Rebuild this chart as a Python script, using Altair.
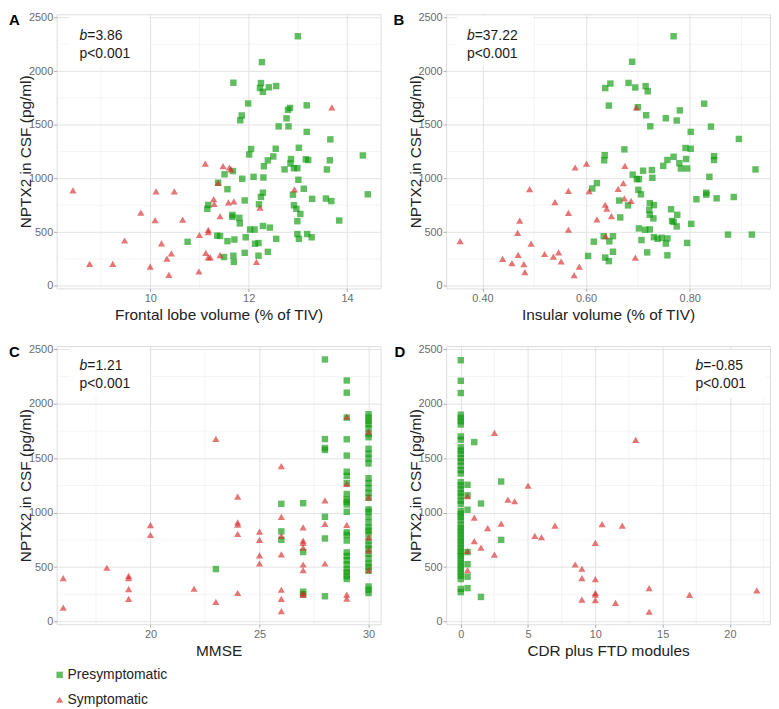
import altair as alt
import pandas as pd

FONT = "Liberation Sans"
GROUPS = ["Presymptomatic", "Symptomatic"]
GREEN = "#0a9a0a"
RED = "#d92b2b"

Y_TITLE = "NPTX2 in CSF (pg/ml)"
Y_MAJOR = [0, 500, 1000, 1500, 2000, 2500]
Y_MINOR = [250, 750, 1250, 1750, 2250]
Y_DOM = [-25, 2530]

# ---------------- Panel A: frontal lobe volume ----------------
A_pre = [(13.0, 2325), (12.27, 2084), (11.69, 1892), (12.25, 1889), (12.23, 1843), (12.41, 1849),
         (12.56, 1861), (12.29, 1807), (11.99, 1699), (13.18, 1681), (12.84, 1657), (12.80, 1639),
         (11.86, 1587), (11.83, 1542), (12.77, 1560), (12.61, 1485), (12.81, 1485), (13.18, 1434),
         (13.66, 1364), (13.02, 1286), (12.05, 1274), (12.55, 1277), (12.01, 1223), (12.50, 1205),
         (12.39, 1169), (12.86, 1181), (13.16, 1178), (13.21, 1172), (13.65, 1169), (14.32, 1214),
         (12.31, 1114), (12.85, 1139), (11.51, 1039), (11.68, 1069), (12.92, 1096), (12.99, 1096),
         (12.73, 1084), (13.59, 1084), (12.10, 1015), (12.30, 1009), (11.87, 997), (13.01, 988),
         (11.38, 960), (11.57, 900), (13.12, 904), (12.29, 867), (14.42, 852), (12.90, 849),
         (12.25, 828), (13.29, 810), (13.57, 813), (13.68, 789), (11.92, 795), (12.21, 759),
         (12.92, 750), (11.18, 753), (11.16, 717), (12.97, 717), (13.05, 669), (11.67, 660),
         (11.67, 642), (11.81, 633), (12.99, 602), (13.84, 608), (11.82, 581), (12.29, 557),
         (12.43, 542), (12.03, 524), (12.12, 524), (12.99, 482), (13.19, 482), (11.36, 467),
         (11.42, 464), (13.28, 452), (13.02, 437), (12.56, 437), (11.94, 452), (11.71, 431),
         (11.57, 416), (10.76, 410), (12.13, 392), (12.20, 398), (12.39, 316), (11.92, 307),
         (12.20, 280), (11.69, 280), (11.50, 268), (11.70, 223)]
A_sym = [(8.43, 889), (8.77, 205), (9.24, 205), (9.48, 422), (9.81, 681), (10.0, 178), (10.12, 880),
         (10.10, 611), (10.23, 395), (10.34, 253), (10.43, 301), (10.38, 102), (10.49, 880),
         (10.66, 617), (10.99, 133), (11.0, 473), (11.12, 1139), (11.13, 307), (11.18, 521),
         (11.18, 265), (11.22, 265), (11.18, 500), (11.29, 807), (11.30, 762), (11.38, 958),
         (11.42, 648), (11.42, 286), (11.48, 1114), (11.61, 1102), (11.64, 1084), (11.59, 777),
         (11.70, 786), (12.16, 223), (12.23, 729), (12.93, 898), (13.69, 1663)]

# ---------------- Panel B: insular volume ----------------
B_pre = [(0.769, 2325), (0.689, 2087), (0.637, 1842), (0.647, 1884), (0.682, 1890), (0.695, 1848),
         (0.715, 1860), (0.719, 1812), (0.644, 1679), (0.700, 1664), (0.828, 1697), (0.781, 1634),
         (0.716, 1589), (0.754, 1561), (0.775, 1540), (0.724, 1486), (0.841, 1483), (0.802, 1434),
         (0.895, 1368), (0.674, 1271), (0.792, 1284), (0.802, 1277), (0.636, 1217), (0.635, 1169),
         (0.769, 1202), (0.757, 1172), (0.749, 1117), (0.780, 1142), (0.783, 1093), (0.795, 1093),
         (0.793, 1181), (0.847, 1208), (0.847, 1172), (0.927, 1084), (0.710, 1072), (0.727, 1078),
         (0.690, 1036), (0.702, 994), (0.698, 994), (0.728, 1006), (0.838, 1015), (0.621, 957),
         (0.612, 906), (0.701, 894), (0.706, 852), (0.832, 867), (0.832, 849), (0.885, 827),
         (0.813, 806), (0.852, 815), (0.664, 794), (0.723, 770), (0.731, 752), (0.681, 749),
         (0.722, 707), (0.764, 713), (0.723, 661), (0.776, 661), (0.730, 628), (0.666, 637),
         (0.766, 604), (0.769, 595), (0.775, 553), (0.803, 577), (0.702, 535), (0.723, 525),
         (0.714, 522), (0.874, 477), (0.920, 477), (0.634, 462), (0.652, 462), (0.731, 453),
         (0.746, 447), (0.738, 438), (0.707, 426), (0.757, 441), (0.754, 393), (0.615, 411),
         (0.645, 414), (0.795, 399), (0.652, 317), (0.718, 311), (0.604, 278), (0.637, 263),
         (0.757, 284), (0.644, 230)]
B_sym = [(0.357, 417), (0.439, 251), (0.457, 211), (0.468, 492), (0.472, 607), (0.469, 287),
         (0.480, 202), (0.482, 127), (0.491, 900), (0.494, 393), (0.520, 296), (0.537, 272),
         (0.540, 779), (0.547, 311), (0.552, 226), (0.566, 885), (0.566, 680), (0.566, 522),
         (0.579, 1102), (0.577, 100), (0.587, 178), (0.601, 1138), (0.606, 882), (0.621, 619),
         (0.637, 755), (0.640, 719), (0.638, 462), (0.649, 649), (0.662, 903), (0.672, 957),
         (0.674, 815), (0.675, 1117), (0.687, 791), (0.695, 263), (0.697, 1661)]

# ---------------- Panel C: MMSE ----------------
C_pre = [(23, 482),
         (26, 1081), (26, 828), (26, 750),
         (27, 1087), (27, 639), (27, 274), (27, 250),
         (28, 2407), (28, 1676), (28, 1594), (28, 1576), (28, 962), (28, 763), (28, 232),
         (29, 2214), (29, 2102), (29, 1873), (29, 1674), (29, 1524), (29, 1376), (29, 1337),
         (29, 1271), (29, 1171), (29, 1121), (29, 1099), (29, 1075), (29, 1008), (29, 819),
         (29, 795), (29, 744), (29, 635), (29, 602), (29, 563), (29, 524), (29, 479), (29, 452),
         (29, 418), (29, 391),
         (30, 1904), (30, 1873), (30, 1843), (30, 1813), (30, 1774), (30, 1723), (30, 1693),
         (30, 1587), (30, 1542), (30, 1497), (30, 1452), (30, 1316), (30, 1271), (30, 1226),
         (30, 1181), (30, 1136), (30, 1030), (30, 1009), (30, 961), (30, 910), (30, 864),
         (30, 834), (30, 804), (30, 744), (30, 699), (30, 669), (30, 623), (30, 578), (30, 533),
         (30, 503), (30, 467), (30, 322), (30, 292), (30, 262)]
C_sym = [(16, 398), (16, 127), (18, 494), (19, 419), (19, 398), (19, 298), (19, 208),
         (20, 886), (20, 795), (22, 301), (23, 1678), (23, 181),
         (24, 1148), (24, 910), (24, 889), (24, 804), (24, 262),
         (25, 825), (25, 750), (25, 608), (25, 533),
         (26, 1428), (26, 961), (26, 786), (26, 617), (26, 292), (26, 208), (26, 96),
         (27, 864), (27, 744), (27, 723), (27, 678), (27, 524), (27, 473), (27, 262), (27, 244),
         (28, 1112), (28, 897), (28, 533),
         (29, 1882), (29, 1265), (29, 888), (29, 247), (29, 210),
         (30, 1744), (30, 1141), (30, 771), (30, 653), (30, 473)]

# ---------------- Panel D: CDR plus FTD modules ----------------
D_pre = [(0, 2400), (0, 2211), (0, 2099), (0, 1900), (0, 1870), (0, 1840), (0, 1810), (0, 1700),
         (0, 1670), (0, 1600), (0, 1570), (0, 1540), (0, 1500), (0, 1470), (0, 1430), (0, 1390),
         (0, 1360), (0, 1280), (0, 1250), (0, 1215), (0, 1180), (0, 1150), (0, 1110), (0, 1080),
         (0, 1015), (0, 990), (0, 960), (0, 930), (0, 890), (0, 860), (0, 830), (0, 800),
         (0, 770), (0, 740), (0, 710), (0, 680), (0, 650), (0, 625), (0, 600), (0, 570),
         (0, 540), (0, 510), (0, 480), (0, 450), (0, 420), (0, 390), (0, 300), (0, 270),
         (0.5, 1256), (0.5, 1159), (0.5, 1027), (0.5, 638), (0.5, 527), (0.5, 412), (0.5, 307),
         (1.0, 1648), (1.5, 1084), (1.5, 226), (3.0, 1286), (3.0, 750)]
D_sym = [(0.5, 1151), (0.5, 648), (0.5, 473), (2.5, 1732), (1.0, 955), (1.0, 738), (1.5, 678),
         (2.0, 858), (2.5, 614), (3.0, 900), (3.5, 1120), (4.0, 1105), (5.0, 1247), (5.5, 786),
         (6.0, 774), (7.0, 880), (8.5, 524), (9.0, 485), (9.0, 398), (9.0, 202), (10.0, 723),
         (10.0, 389), (10.0, 262), (10.0, 247), (10.0, 196), (10.5, 895), (11.5, 172),
         (12.0, 880), (13.0, 1669), (14.0, 307), (14.0, 90), (17.0, 244), (22.0, 286)]

SQ_SIZE = 42
TRI_SIZE = 52

AXIS_COMMON = dict(
    grid=True, gridColor="#e3e3e3", gridWidth=1, domain=False,
    ticks=True, tickSize=3, tickColor="#a8a8a8", tickWidth=1,
    labelFontSize=11, labelColor="#6b6b6b", labelPadding=1, labelFont=FONT,
    labelFlush=False, labelOverlap=False,
    titleFontSize=15.5, titleFontWeight="normal", titleColor="#222222", titleFont=FONT,
)

ONE = pd.DataFrame({"k": [0]})


def pts(pairs):
    return pd.DataFrame({"x": [p[0] for p in pairs], "y": [p[1] for p in pairs]})


def panel(pre, sym, xdom, xmajor, xminor, xfmt, xtitle, letter, letter_dx,
          btxt, tx, ty, box, W, H):
    xaxis = alt.Axis(values=xmajor, format=xfmt, title=xtitle, titlePadding=4, **AXIS_COMMON)
    yaxis = alt.Axis(values=Y_MAJOR, format="d", title=Y_TITLE, titleX=-26,
                     titleBaseline="alphabetic", **AXIS_COMMON)
    X = alt.X("x:Q", scale=alt.Scale(domain=xdom, nice=False, zero=False), axis=xaxis)
    Y = alt.Y("y:Q", scale=alt.Scale(domain=Y_DOM, nice=False, zero=False), axis=yaxis)

    vgrid = alt.Chart(pd.DataFrame({"x": xminor})).mark_rule(
        color="#ececec", strokeWidth=0.6).encode(x=X)
    hgrid = alt.Chart(pd.DataFrame({"y": Y_MINOR})).mark_rule(
        color="#ececec", strokeWidth=0.6).encode(y=Y)
    rect = alt.Chart(ONE).mark_rect(color="white").encode(
        x=alt.value(box[0]), x2=alt.value(box[1]), y=alt.value(box[2]), y2=alt.value(box[3]))
    tb = alt.Chart(ONE).mark_text(text="b", fontStyle="italic", fontSize=14, font=FONT,
                                  align="left", baseline="middle", color="#1a1a1a").encode(
        x=alt.value(tx), y=alt.value(ty))
    tval = alt.Chart(ONE).mark_text(text=btxt, fontSize=14, font=FONT, align="left",
                                    baseline="middle", color="#1a1a1a").encode(
        x=alt.value(tx + 7.8), y=alt.value(ty))
    tp = alt.Chart(ONE).mark_text(text="p<0.001", fontSize=14, font=FONT, align="left",
                                  baseline="middle", color="#1a1a1a").encode(
        x=alt.value(tx), y=alt.value(ty + 18))
    lab = alt.Chart(ONE).mark_text(text=letter, fontSize=15, fontWeight="bold", font=FONT,
                                   align="left", baseline="top", color="#000000").encode(
        x=alt.value(letter_dx), y=alt.value(-1))
    gpts = alt.Chart(pts(pre)).mark_point(shape="square", filled=True, size=SQ_SIZE, color=GREEN,
                                          opacity=0.65).encode(x=X, y=Y)
    rpts = alt.Chart(pts(sym)).mark_point(shape="triangle-up", filled=True, size=TRI_SIZE,
                                          color=RED, opacity=0.65).encode(x=X, y=Y)
    return alt.layer(vgrid, hgrid, rect, tb, tval, tp, gpts, rpts, lab).properties(
        width=W, height=H)


W = 326
H1 = 276
H2 = 280

pA = panel(A_pre, A_sym, [8.1, 14.68], [10, 12, 14], [9, 11, 13], "d",
           "Frontal lobe volume (% of TIV)", "A", -48, "=3.86", 23, 22, [13, 93, 2, 52], W, H1)
pB = panel(B_pre, B_sym, [0.33, 0.955], [0.4, 0.6, 0.8], [0.5, 0.7, 0.9], ".2f",
           "Insular volume (% of TIV)", "B", -53, "=37.22", 21, 22, [11, 88, 2, 52], W, H1)
pC = panel(C_pre, C_sym, [15.7, 30.55], [20, 25, 30], [17.5, 22.5, 27.5], "d",
           "MMSE", "C", -48, "=1.21", 23, 20, [13, 93, 2, 50], W, H2)
pD = panel(D_pre, D_sym, [-1.09, 22.98], [0, 5, 10, 15, 20], [2.5, 7.5, 12.5, 17.5, 22.5], "d",
           "CDR plus FTD modules", "D", -52, "=-0.85", 251, 20, [241, 322, 4, 52], W, H2)

# ---------------- legend (third row, drawn just under panel C) ----------------
LEG = pd.DataFrame({"group": GROUPS})
leg_y = alt.Y("group:N", axis=None,
              scale=alt.Scale(type="point", domain=GROUPS, range=[-7, 18], padding=0))
leg_pts = alt.Chart(LEG).mark_point(filled=True, opacity=0.65).encode(
    x=alt.value(3), y=leg_y,
    shape=alt.Shape("group:N", scale=alt.Scale(domain=GROUPS, range=["square", "triangle-up"]),
                    legend=None),
    color=alt.Color("group:N", scale=alt.Scale(domain=GROUPS, range=[GREEN, RED]), legend=None),
    size=alt.Size("group:N", scale=alt.Scale(domain=GROUPS, range=[SQ_SIZE, TRI_SIZE]),
                  legend=None),
)
leg_txt = alt.Chart(LEG).mark_text(align="left", baseline="middle", fontSize=14, font=FONT,
                                   color="#222222").encode(
    x=alt.value(11), y=leg_y, text="group:N")
legend = alt.layer(leg_pts, leg_txt).properties(
    width=200, height=20, view=alt.ViewBackground(strokeOpacity=0))

chart = alt.concat(pA, pB, pC, pD, legend, columns=2,
                   spacing={"row": 58, "column": 66},
                   bounds="flush").properties(
    padding=0
).configure_view(stroke="#b3b3b3", strokeWidth=1.5).configure(font=FONT)

chart.save("out.html", embed_options={"renderer": "svg", "actions": False})
